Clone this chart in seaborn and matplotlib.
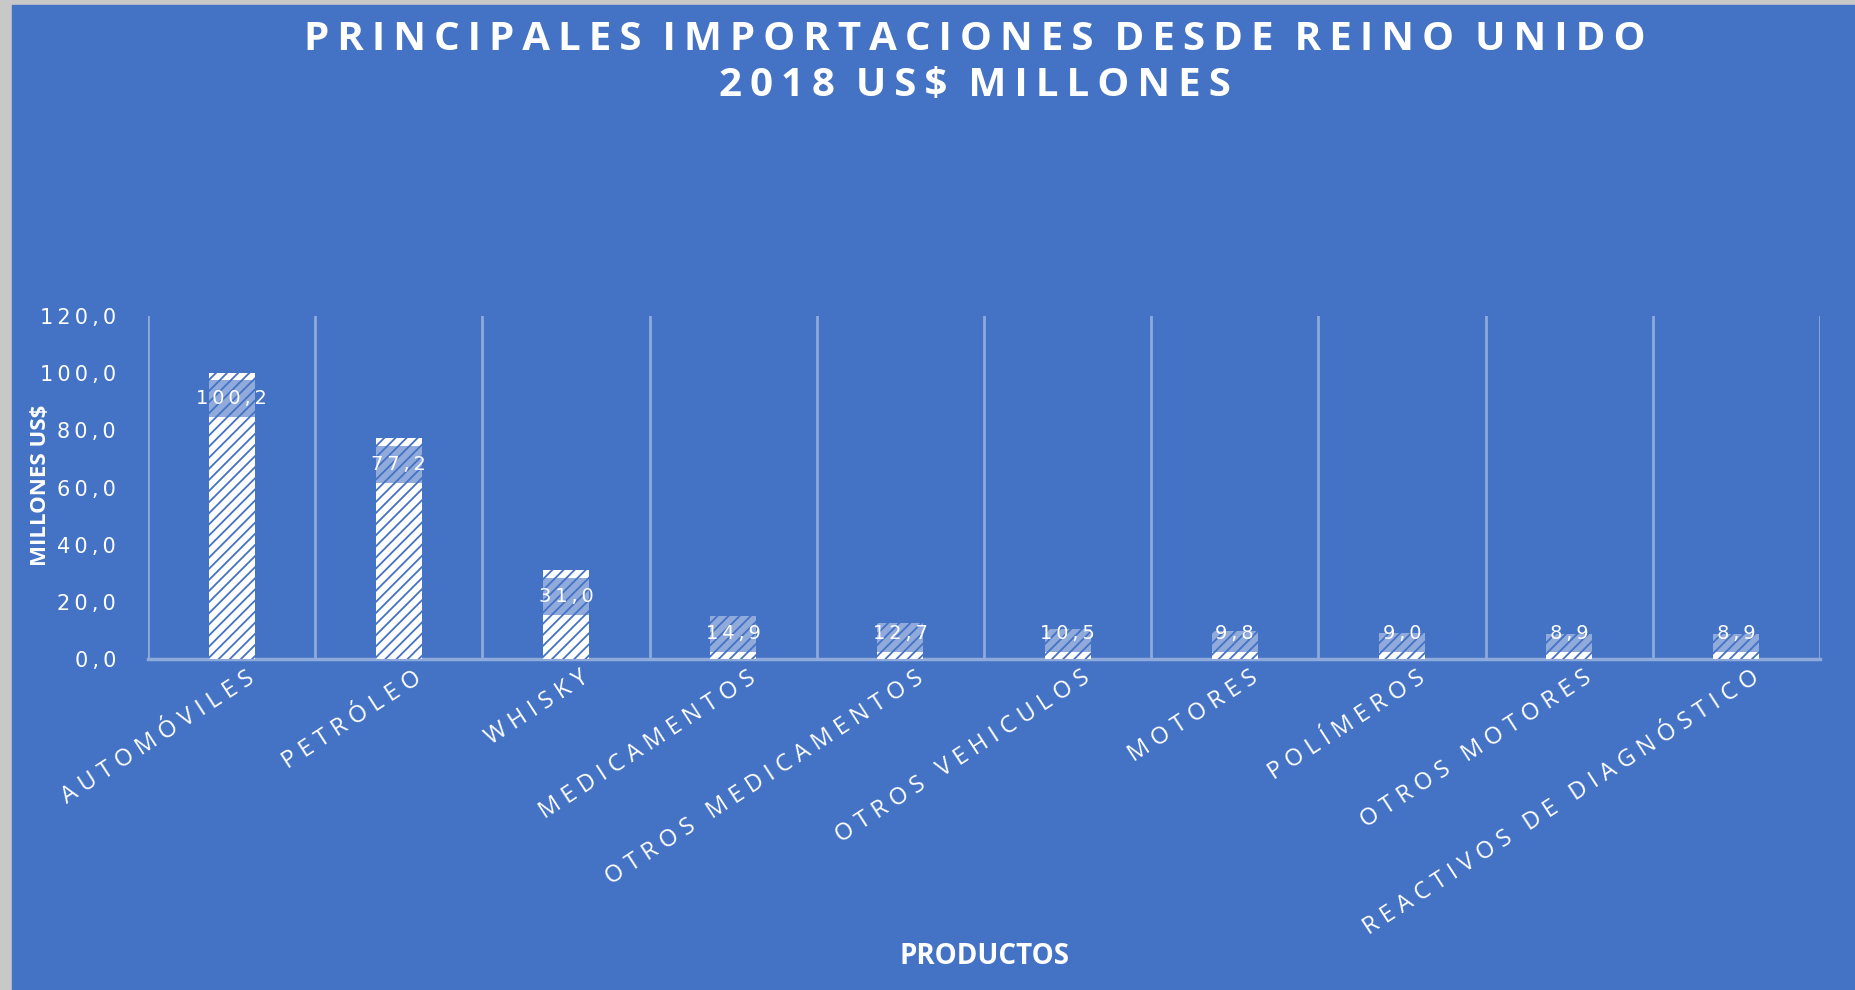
import numpy as np
import pandas as pd
import matplotlib
matplotlib.use("Agg")
import matplotlib.pyplot as plt
import matplotlib.transforms as mtransforms
import seaborn as sns
from matplotlib.patches import Rectangle

# Data
productos = ["AUTOMÓVILES", "PETRÓLEO", "WHISKY", "MEDICAMENTOS",
             "OTROS MEDICAMENTOS", "OTROS VEHICULOS", "MOTORES",
             "POLÍMEROS", "OTROS MOTORES", "REACTIVOS DE DIAGNÓSTICO"]
valores = [100.2, 77.2, 31.0, 14.9, 12.7, 10.5, 9.8, 9.0, 8.9, 8.9]
y_ticks = [0, 20, 40, 60, 80, 100, 120]

BLUE = "#4472C4"
GRID = "#8EAADB"
THIN = "\u2009"
HAIR = "\u200a"


def spaced(s, sep=THIN):
    return sep.join(s)


def coma(val):
    return spaced(f"{val:.1f}".replace(".", ","))


sns.set_theme(style="white")
plt.rcParams["font.family"] = ["DejaVu Sans"]
plt.rcParams["hatch.linewidth"] = 1.3

df = pd.DataFrame({"producto": productos, "valor": valores})

fig = plt.figure(figsize=(18.55, 9.9), dpi=100)
fig.patch.set_facecolor("#c8c8c8")
fig.patches.append(Rectangle((12 / 1855, 0), 1, 1 - 5 / 990,
                             transform=fig.transFigure, color=BLUE, zorder=-5))

ax = fig.add_axes([148 / 1855, 1 - 659 / 990, 1672 / 1855, 343 / 990])
ax.set_facecolor(BLUE)

sns.barplot(data=df, x="producto", y="valor", ax=ax, width=0.275,
            color="white", edgecolor=BLUE, linewidth=0, hatch="///",
            saturation=1, zorder=3)

# data labels with translucent box
x = np.arange(len(valores))
v = np.array(valores)
label_y = np.maximum(v - 9.2, 8.8)
box_top = np.minimum(label_y + 6.5, v + 0.5)
box_bot = label_y - 6.5
ax.bar(x, box_top - box_bot, bottom=box_bot, width=0.275,
       color=BLUE, alpha=0.6, linewidth=0, zorder=4)
for xi, yi, val in zip(x, label_y, valores):
    ax.text(xi, yi, coma(val), ha="center", va="center",
            color="white", fontsize=14, zorder=5)

ax.set_xlim(-0.5, len(valores) - 0.5)
ax.set_ylim(0, 120)
ax.set_yticks(y_ticks)
ax.set_yticklabels([coma(t) for t in y_ticks], color="white", fontsize=15)
ax.set_xticks(x)
ax.set_xticklabels([spaced(p, THIN + HAIR) for p in productos], rotation=33,
                   ha="right", rotation_mode="anchor", va="top",
                   color="white", fontsize=17,
                   family=["Open Sans", "DejaVu Sans"])
ax.tick_params(axis="x", length=0, pad=5)
ax.tick_params(axis="y", length=0, pad=23)
shift = mtransforms.ScaledTranslation(14 / 100, 0, fig.dpi_scale_trans)
for lbl in ax.get_xticklabels():
    lbl.set_transform(lbl.get_transform() + shift)

# vertical gridlines between categories
ax.set_xticks(np.arange(-0.5, len(valores)), minor=True)
ax.tick_params(axis="x", which="minor", length=0)
ax.grid(True, axis="x", which="minor", color=GRID, linewidth=2)
ax.grid(False, axis="y")
ax.grid(False, axis="x", which="major")
for s in ["top", "left", "right"]:
    ax.spines[s].set_visible(False)
ax.spines["bottom"].set_color(GRID)
ax.spines["bottom"].set_linewidth(2.5)

ax.set_xlabel("")
ax.set_ylabel("")

fig.text(984 / 1855, 1 - 956 / 990, "PRODUCTOS", ha="center", va="center",
         color="white", fontsize=20, fontweight="bold",
         family=["Open Sans", "DejaVu Sans"])
fig.text(41 / 1855, 1 - 485 / 990, "MILLONES US$", ha="center", va="center",
         rotation=90, color="white", fontsize=16, fontweight="bold",
         family=["Open Sans", "DejaVu Sans"])

titulo = "  ".join(spaced(w) for w in ["PRINCIPALES", "IMPORTACIONES", "DESDE", "REINO", "UNIDO"])
fig.text(975 / 1855, 1 - 40 / 990, titulo, ha="center", va="center",
         color="white", fontsize=29, fontweight="bold",
         family=["Open Sans", "DejaVu Sans"])
fig.text(975 / 1855, 1 - 85 / 990, "  ".join(spaced(w) for w in ["2018", "US$", "MILLONES"]),
         ha="center", va="center", color="white", fontsize=29,
         fontweight="bold", family=["Open Sans", "DejaVu Sans"])

fig.savefig("out.png", dpi=100, facecolor=fig.get_facecolor())
